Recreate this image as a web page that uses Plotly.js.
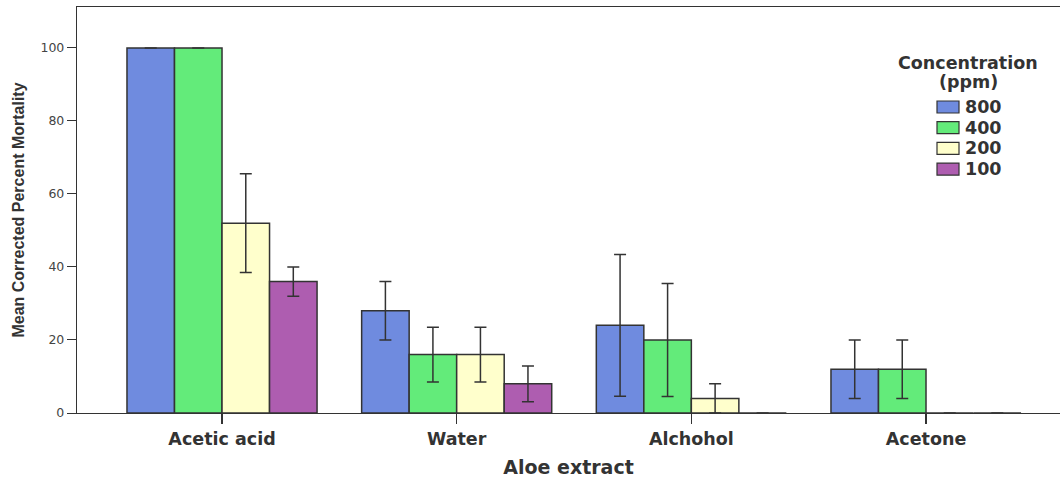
<!DOCTYPE html>
<html>
<head>
<meta charset="utf-8">
<script src="https://cdn.plot.ly/plotly-3.0.1.min.js"></script>
<style>html,body{margin:0;padding:0;background:#fff;}#chart{width:1060px;height:479px;}</style>
</head>
<body>
<div id="chart"></div>
<script>
const categories = ["Acetic acid", "Water", "Alchohol", "Acetone"];
const seriesNames = ["800", "400", "200", "100"];
const values800 = [100, 28, 24, 12];
const values400 = [100, 16, 20, 12];
const values200 = [52, 16, 4, 0];
const values100 = [36, 8, 0, 0];
const err800 = [0, 8, 19.4, 8];
const err400 = [0, 7.5, 15.5, 8];
const err200 = [13.5, 7.5, 4, 0];
const err100 = [4, 4.9, 0, 0];
const colors = ["#6f8bdf", "#63eb7a", "#ffffcc", "#ae5db0"];
const legendTitleLines = ["Concentration", "(ppm)"];

const vals = [values800, values400, values200, values100];
const errs = [err800, err400, err200, err100];

const W = 1060, H = 479;
const M = {l: 77, r: 0, t: 7, b: 66};
const PW = W - M.l - M.r, PH = H - M.t - M.b;
const px2x = p => (p - M.l) / PW;
const py2y = p => (H - M.b - p) / PH;

const boldFont = "DejaVu Sans, Verdana, sans-serif";

const traces = seriesNames.map((n, i) => ({
  type: "bar",
  name: n,
  x: categories,
  y: vals[i],
  showlegend: false,
  marker: {color: colors[i], line: {color: "#333333", width: 1.5}},
  error_y: {type: "data", array: errs[i], visible: true, color: "#333333", thickness: 1.5, width: 6}
}));

// custom legend (styled like the reference)
const shapes = [];
const annotations = [];
const rowTop = 107, rowStep = 20.7, swL = 937, swR = 959, swH = 12;
seriesNames.forEach((n, i) => {
  const cy = rowTop + i * rowStep;
  shapes.push({
    type: "rect", xref: "paper", yref: "paper",
    x0: px2x(swL), x1: px2x(swR), y0: py2y(cy + swH / 2), y1: py2y(cy - swH / 2),
    fillcolor: colors[i], line: {color: "#333333", width: 1.2}
  });
  annotations.push({
    xref: "paper", yref: "paper", x: px2x(963), y: py2y(cy),
    xanchor: "left", yanchor: "middle", showarrow: false,
    text: "<b>" + n + "</b>", font: {family: boldFont, size: 17.5, color: "#333333"}
  });
});
legendTitleLines.forEach((t, i) => {
  annotations.push({
    xref: "paper", yref: "paper", x: px2x(968), y: py2y(63 + i * 19.5),
    xanchor: "center", yanchor: "middle", showarrow: false,
    text: "<b>" + t + "</b>", font: {family: boldFont, size: 17.5, color: "#333333"}
  });
});

const layout = {
  width: W, height: H,
  margin: M,
  paper_bgcolor: "#ffffff", plot_bgcolor: "#ffffff",
  barmode: "group", bargap: 0.19, bargroupgap: 0,
  font: {family: "Liberation Sans, Arial, sans-serif", color: "#333333"},
  showlegend: false,
  xaxis: {
    type: "category",
    range: [-0.618, 3.571],
    showline: true, linecolor: "#333333", linewidth: 1.2, mirror: true,
    ticks: "outside", ticklen: 10, tickcolor: "#333333", tickwidth: 1.5,
    tickfont: {size: 17.5, family: boldFont, color: "#333333", weight: "bold"},
    title: {text: "<b>Aloe extract</b>", font: {size: 19, family: boldFont, color: "#333333"}, standoff: 12},
    showgrid: false, zeroline: false
  },
  yaxis: {
    range: [0, 111.2],
    tickvals: [0, 20, 40, 60, 80, 100],
    showline: true, linecolor: "#333333", linewidth: 1.2, mirror: true,
    ticks: "outside", ticklen: 9, tickcolor: "#333333", tickwidth: 1,
    tickfont: {size: 12.5, family: "DejaVu Sans, sans-serif", color: "#444444"},
    title: {text: "<b>Mean Corrected Percent Mortality</b>", font: {size: 16, family: "Liberation Sans, Arial, sans-serif", color: "#333333"}, standoff: 11},
    showgrid: false, zeroline: false
  },
  shapes: shapes,
  annotations: annotations
};

Plotly.newPlot("chart", traces, layout, {displayModeBar: false, staticPlot: true});
</script>
</body>
</html>
